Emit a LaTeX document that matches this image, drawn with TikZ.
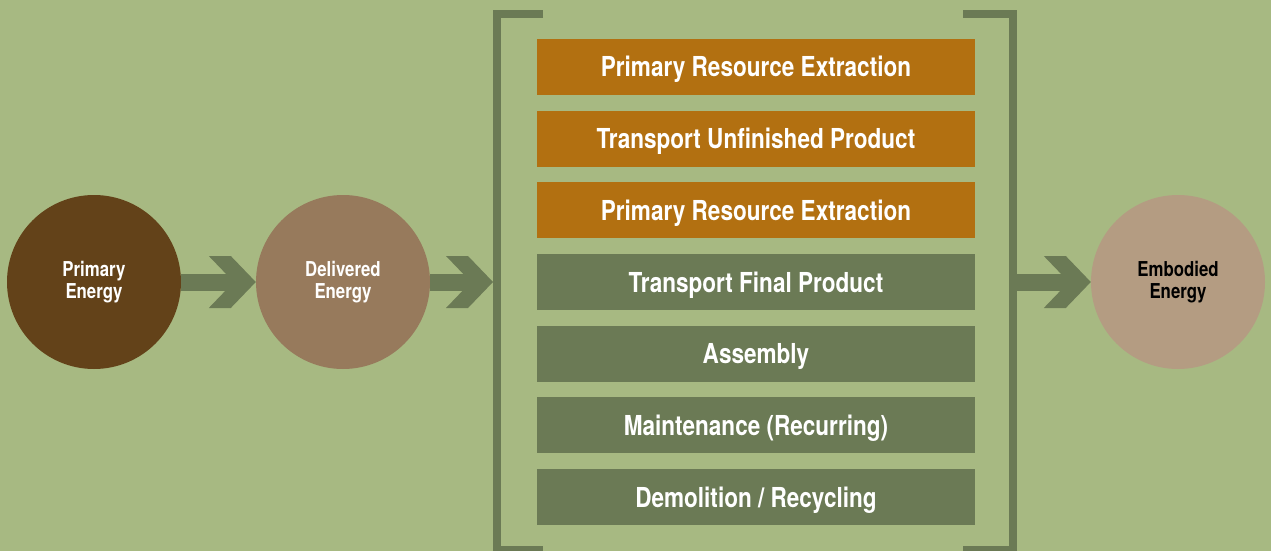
\documentclass[tikz,border=0pt]{standalone}
\usepackage{fontspec}
\setmainfont[FakeStretch=0.82]{TeX Gyre Heros}
\usetikzlibrary{positioning}

\definecolor{bgGreen}{HTML}{A7B982}
\definecolor{darkGreen}{HTML}{6B7A55}
\definecolor{stageOrange}{HTML}{B27011}
\definecolor{primBrown}{HTML}{634219}
\definecolor{delivBrown}{HTML}{977A5C}
\definecolor{embodBrown}{HTML}{B49C82}

\tikzset{
  energy/.style={circle, minimum size=174pt, inner sep=0pt, align=center,
    font=\bfseries\fontsize{20.5}{22}\selectfont},
  stagebox/.style={minimum width=438pt, minimum height=56pt, inner sep=0pt,
    outer sep=0pt, text height=20pt, text depth=0pt,
    text=white, font=\bfseries\fontsize{27.5}{30}\selectfont},
  shaft/.style={draw=darkGreen, line width=17pt},
  bracket/.style={draw=darkGreen, line width=8pt},
  chevron/.pic={\fill[darkGreen] (0,0) -- (-25,-26) -- (-47,-26) -- (-22,0)
    -- (-47,26) -- (-25,26) -- cycle;}
}

\begin{document}
\begin{tikzpicture}[x=1pt, y=-1pt, node distance=15.67pt]

  \fill[bgGreen] (0,0) rectangle (1271,551);
  \useasboundingbox (0,0) rectangle (1271,551);

  \node[energy, fill=primBrown, text=white] (prim) at (94,282) {Primary\\Energy};
  \node[energy, fill=delivBrown, text=white] (deliv) at (343,282) {Delivered\\Energy};
  \node[energy, fill=embodBrown, text=black] (embod) at (1178,282) {Embodied\\Energy};

  % stages
  \node[stagebox, fill=stageOrange] (s1) at (756,67) {Primary Resource Extraction};
  \node[stagebox, fill=stageOrange, below=of s1] (s2) {Transport Unfinished Product};
  \node[stagebox, fill=stageOrange, below=of s2] (s3) {Primary Resource Extraction};
  \node[stagebox, fill=darkGreen, below=of s3] (s4) {Transport Final Product};
  \node[stagebox, fill=darkGreen, below=of s4] (s5) {Assembly};
  \node[stagebox, fill=darkGreen, below=of s5] (s6) {Maintenance (Recurring)};
  \node[stagebox, fill=darkGreen, below=of s6] (s7) {Demolition / Recycling};

  % brackets
  \draw[bracket] (543,14) -- (497,14) -- (497,550) -- (543,550);
  \draw[bracket] (963,14) -- (1012.5,14) -- (1012.5,550) -- (963,550);
  \coordinate (bl) at (493,282);
  \coordinate (br) at (1016,282);

  \draw[shaft] (prim.east) -- ([xshift=-20pt]deliv.west);
  \pic at (deliv.west) {chevron};
  \draw[shaft] (deliv.east) -- ([xshift=-20pt]bl);
  \pic at (bl) {chevron};
  \draw[shaft] (br) -- ([xshift=-20pt]embod.west);
  \pic at (embod.west) {chevron};

\end{tikzpicture}
\end{document}
